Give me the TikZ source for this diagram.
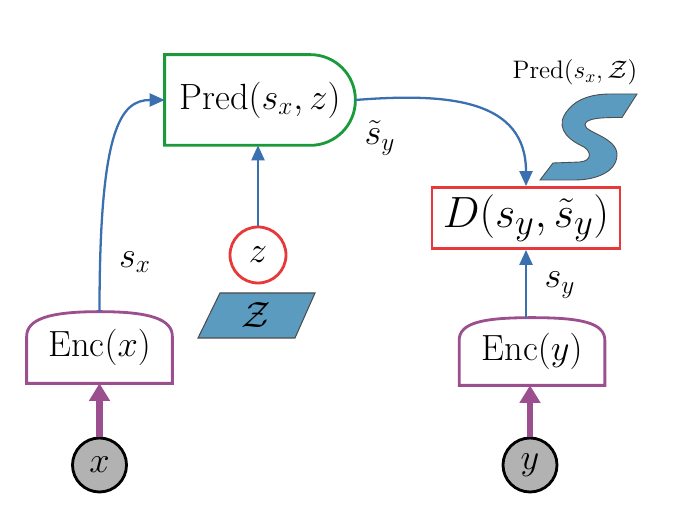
\documentclass[tikz,border=0pt]{standalone}
\usepackage{amsmath}
\usetikzlibrary{arrows.meta, positioning}
\definecolor{encpurple}{HTML}{9B4F8F}
\definecolor{predgreen}{HTML}{1A9A3A}
\definecolor{dred}{HTML}{E8393A}
\definecolor{flowblue}{HTML}{3A6FB0}
\definecolor{setblue}{HTML}{5B9BBF}
\tikzset{
  varnode/.style = {circle, draw=black, line width=1.6pt, fill=gray!60, minimum size=1.08cm, inner sep=0pt},
  latnode/.style = {circle, draw=dred, line width=1.6pt, fill=white, minimum size=1.12cm, inner sep=0pt},
  textbox/.style = {inner sep=0pt},
  encline/.style = {draw=encpurple, line width=1.6pt},
  flow/.style = {-{Triangle[length=3mm,width=2.6mm]}, flowblue, line width=1.3pt},
  feed/.style = {-{Triangle[length=3.5mm,width=4mm]}, encpurple, line width=3.5pt}
}
\begin{document}
\begin{tikzpicture}[font=\huge]
	\useasboundingbox (0,0) rectangle (13.98,10.2);
	% inputs
	\node (x) [varnode] at (1.99,0.9) {$x$};
	\node (y) [varnode] at (10.6,0.9) {$y$};
	% encoders
	\node (ex) [textbox, minimum width=2.9cm, minimum height=1.42cm] at (1.99,3.25) {Enc$(x)$};
	\node (ey) [textbox, minimum width=2.9cm, minimum height=1.34cm] at (10.64,3.17) {Enc$(y)$};
	\foreach \e in {ex, ey}
		\draw [encline] (\e.south west) -- ([yshift=0.22cm]\e.west)
			.. controls ++(0,0.35) and ++(-1.0,0) .. (\e.north)
			.. controls ++(1.0,0) and ++(0,0.35) .. ([yshift=0.22cm]\e.east)
			-- (\e.south east) -- cycle;
	% predictor
	\node (pred) [textbox, minimum width=3.8cm, minimum height=1.8cm] at (5.2,8.2) {Pred$(s_x,z)$};
	\draw [draw=predgreen, line width=1.6pt] (pred.north west) [rounded corners=0.9cm]
		-- (pred.north east) -- (pred.south east) [sharp corners] -- (pred.south west) -- cycle;
	% latent
	\node (z) [latnode] at (5.16,5.1) {$z$};
	\fill [setblue, draw=black!70, line width=0.6pt] (3.96,3.44) -- (5.9,3.44) -- (6.3,4.34) -- (4.4,4.34) -- cycle;
	\node (zset) [textbox] at (5.13,3.89) {$\mathcal{Z}$};
	% energy
	\node (d) [textbox, draw=dred, line width=1.6pt, minimum width=3.76cm, minimum height=1.22cm, font=\Huge] at (10.52,5.84) {$D(s_y,\tilde{s}_y)$};
	% predicted set
	\node (pset) [textbox, font=\Large] at (11.5,8.76) {Pred$(s_x,\mathcal{Z})$};
	\fill [setblue, draw=black!70, line width=0.5pt]
		(12.74,8.32) -- (12.44,7.85) .. controls (12.1,7.85) and (11.7,7.85) .. (11.7,7.7)
		.. controls (11.7,7.55) and (12.35,7.45) .. (12.34,7.1)
		.. controls (12.33,6.75) and (11.9,6.6) .. (11.5,6.6) -- (10.8,6.6) -- (11.06,6.94) -- (11.6,6.96)
		.. controls (11.85,6.98) and (11.85,7.2) .. (11.6,7.3)
		.. controls (11.3,7.45) and (11.1,7.7) .. (11.36,8.0)
		.. controls (11.55,8.25) and (11.9,8.32) .. (12.2,8.32) -- cycle;
	% connections
	\draw [feed] (x) -- (x |- ex.south);
	\draw [feed] (y) -- (y |- ey.south);
	\draw [flow] (ex.north) .. controls (1.99,7.6) and (2.4,8.2) .. (pred.west);
	\node at (2.7,4.96) {$s_x$};
	\draw [flow] (z) -- (z |- pred.south);
	\draw [flow] (pred.east) .. controls (9.0,8.35) and (10.52,8.2) .. (d.north);
	\node at (7.6,7.44) {$\tilde{s}_y$};
	\draw [flow] (d.south |- ey.north) -- (d.south);
	\node at (11.2,4.5) {$s_y$};
\end{tikzpicture}
\end{document}
